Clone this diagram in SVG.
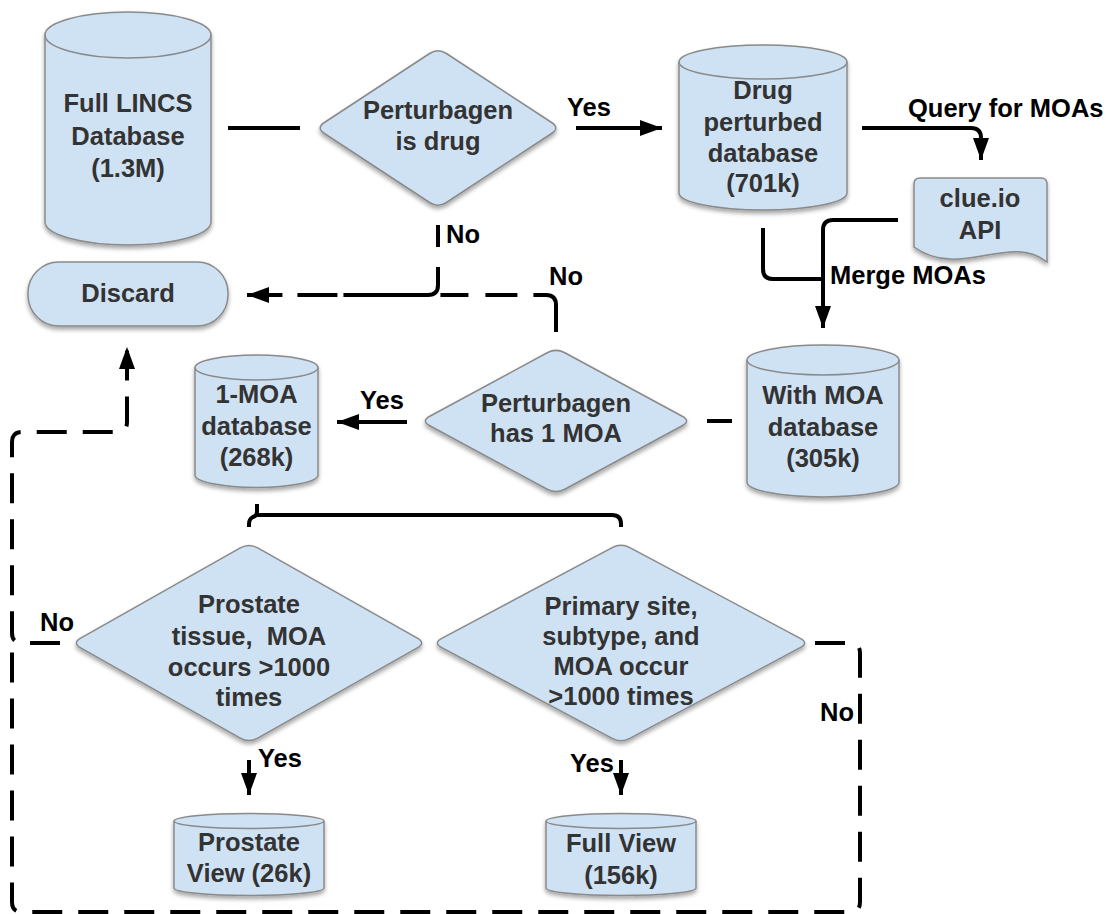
<svg xmlns="http://www.w3.org/2000/svg" width="1110" height="914" viewBox="0 0 1110 914">
<defs>
<filter id="sh" x="-10%" y="-10%" width="120%" height="125%">
<feDropShadow dx="0" dy="3" stdDeviation="2" flood-color="#000" flood-opacity="0.35"/>
</filter>
<marker id="ah" markerUnits="userSpaceOnUse" markerWidth="22" markerHeight="16" refX="22" refY="8" orient="auto">
<path d="M0,0 L22,8 L0,16 Z" fill="#000"/>
</marker>
<style>
.node{fill:#cfe2f3;stroke:#8a8a8a;stroke-width:1.5;filter:url(#sh)}
.edge{fill:none;stroke:#8a8a8a;stroke-width:1.5}
.t{font-family:"Liberation Sans",Arial,sans-serif;font-weight:bold;font-size:25.5px;fill:#333;text-anchor:middle}
.lb{font-family:"Liberation Sans",Arial,sans-serif;font-weight:bold;font-size:25.5px;fill:#000}
.c{fill:none;stroke:#000;stroke-width:4}
.d{fill:none;stroke:#000;stroke-width:4;stroke-dasharray:30 16}
</style>
</defs>
<rect width="1110" height="914" fill="#fff"/>

<g id="connectors">
<path class="c" d="M228,128 H300"/>
<path class="c" d="M576,128 H662" marker-end="url(#ah)"/>
<path class="c" d="M862,128 H971 Q981,128 981,138 V160" marker-end="url(#ah)"/>
<path class="c" d="M763,228 V269 Q763,279 773,279 H823"/>
<path class="c" d="M898,220 H833 Q823,220 823,230 V328" marker-end="url(#ah)"/>
<path class="c" d="M707,421 H732"/>
<path class="c" d="M407,422 H337" marker-end="url(#ah)"/>
<path class="c" d="M438,225 V285 Q438,295 428,295 H247" style="stroke-dasharray:22 20 118.7 6 40 15 40" marker-end="url(#ah)"/>
<path class="c" d="M556,332 V305 Q556,295 546,295 H440" style="stroke-dasharray:55.7 16 32 17 28"/>
<path class="c" d="M257,504 V512 Q257,516 253,517 Q249,519 249,524 V527"/>
<path class="c" d="M257,515 H612 Q621,515 621,524 V527"/>
<path class="d" d="M60,643 H22 Q12,643 12,633 V442 Q12,432 22,432 H117 Q127,432 127,422 V347" marker-end="url(#ah)"/>
<path class="d" d="M815,643 H850 Q860,643 860,653 V902 Q860,912 850,912 H22 Q12,912 12,902 V643"/>
<path class="c" d="M249,760 V795" marker-end="url(#ah)"/>
<path class="c" d="M621,760 V795" marker-end="url(#ah)"/>
<text class="lb" x="567" y="116">Yes</text>
<text class="lb" x="908" y="117">Query for MOAs</text>
<text class="lb" x="446" y="243">No</text>
<text class="lb" x="549" y="285">No</text>
<text class="lb" x="830" y="284">Merge MOAs</text>
<text class="lb" x="360" y="409">Yes</text>
<text class="lb" x="40" y="631">No</text>
<text class="lb" x="820" y="721">No</text>
<text class="lb" x="258" y="767">Yes</text>
<text class="lb" x="570" y="772">Yes</text>
</g>

<g id="full-lincs">
<path class="node" d="M45,35 A83,23 0 0 1 211,35 V222 A83,23 0 0 1 45,222 Z"/>
<path class="edge" d="M45,35 A83,23 0 0 0 211,35"/>
<text class="t" x="128" y="112">Full LINCS</text>
<text class="t" x="128" y="145">Database</text>
<text class="t" x="128" y="177">(1.3M)</text>
</g>

<g id="discard">
<rect class="node" x="28" y="262" width="200" height="64" rx="31" ry="31"/>
<text class="t" x="128" y="302">Discard</text>
</g>

<g id="is-drug">
<path class="node" d="M324.4,122.5 L429.6,53.5 Q438,48 446.4,53.5 L551.6,122.5 Q560,128 551.6,133.5 L446.4,202.5 Q438,208 429.6,202.5 L324.4,133.5 Q316,128 324.4,122.5 Z"/>
<text class="t" x="438" y="119">Perturbagen</text>
<text class="t" x="438" y="150">is drug</text>
</g>

<g id="drug-db">
<path class="node" d="M679,62 A84,17 0 0 1 847,62 V193 A84,17 0 0 1 679,193 Z"/>
<path class="edge" d="M679,62 A84,17 0 0 0 847,62"/>
<text class="t" x="763" y="99">Drug</text>
<text class="t" x="763" y="131">perturbed</text>
<text class="t" x="763" y="162">database</text>
<text class="t" x="763" y="192">(701k)</text>
</g>

<g id="clue-api">
<path class="node" d="M920,178 H1041 Q1047,178 1047,184 V262 C1010,232 960,280 914,247 V184 Q914,178 920,178 Z"/>
<text class="t" x="980" y="207">clue.io</text>
<text class="t" x="980" y="239">API</text>
</g>

<g id="with-moa">
<path class="node" d="M747,360 A76,15 0 0 1 899,360 V482 A76,15 0 0 1 747,482 Z"/>
<path class="edge" d="M747,360 A76,15 0 0 0 899,360"/>
<text class="t" x="823" y="404">With MOA</text>
<text class="t" x="823" y="436">database</text>
<text class="t" x="823" y="467">(305k)</text>
</g>

<g id="has-1-moa">
<path class="node" d="M429.8,416.25 L547.2,352.75 Q556,348 564.8,352.75 L682.2,416.25 Q691,421 682.2,425.75 L564.8,489.25 Q556,494 547.2,489.25 L429.8,425.75 Q421,421 429.8,416.25 Z"/>
<text class="t" x="556" y="412">Perturbagen</text>
<text class="t" x="556" y="442">has 1 MOA</text>
</g>

<g id="one-moa-db">
<path class="node" d="M195,367.5 A61.5,12.5 0 0 1 318,367.5 V475 A61.5,12.5 0 0 1 195,475 Z"/>
<path class="edge" d="M195,367.5 A61.5,12.5 0 0 0 318,367.5"/>
<text class="t" x="256.5" y="403">1-MOA</text>
<text class="t" x="256.5" y="435">database</text>
<text class="t" x="256.5" y="466">(268k)</text>
</g>

<g id="prostate-check">
<path class="node" d="M80.7,638.1 L240.3,547.9 Q249,543 257.7,547.9 L417.3,638.1 Q426,643 417.3,647.9 L257.7,738.1 Q249,743 240.3,738.1 L80.7,647.9 Q72,643 80.7,638.1 Z"/>
<text class="t" x="249" y="613">Prostate</text>
<text class="t" x="249" y="645" style="white-space:pre" xml:space="preserve">tissue,  MOA</text>
<text class="t" x="249" y="676">occurs &gt;1000</text>
<text class="t" x="249" y="706">times</text>
</g>

<g id="primary-check">
<path class="node" d="M441.8,638.3 L612.2,547.7 Q621,543 629.8,547.7 L800.2,638.3 Q809,643 800.2,647.7 L629.8,738.3 Q621,743 612.2,738.3 L441.8,647.7 Q433,643 441.8,638.3 Z"/>
<text class="t" x="621" y="615">Primary site,</text>
<text class="t" x="621" y="645">subtype, and</text>
<text class="t" x="621" y="675">MOA occur</text>
<text class="t" x="621" y="705">&gt;1000 times</text>
</g>

<g id="prostate-view">
<path class="node" d="M174,821 A75,7.5 0 0 1 324,821 V888 A75,7.5 0 0 1 174,888 Z"/>
<path class="edge" d="M174,821 A75,7.5 0 0 0 324,821"/>
<text class="t" x="249" y="851">Prostate</text>
<text class="t" x="249" y="882">View (26k)</text>
</g>

<g id="full-view">
<path class="node" d="M546,821 A75,7.5 0 0 1 696,821 V888 A75,7.5 0 0 1 546,888 Z"/>
<path class="edge" d="M546,821 A75,7.5 0 0 0 696,821"/>
<text class="t" x="621" y="852">Full View</text>
<text class="t" x="621" y="884">(156k)</text>
</g>
</svg>
